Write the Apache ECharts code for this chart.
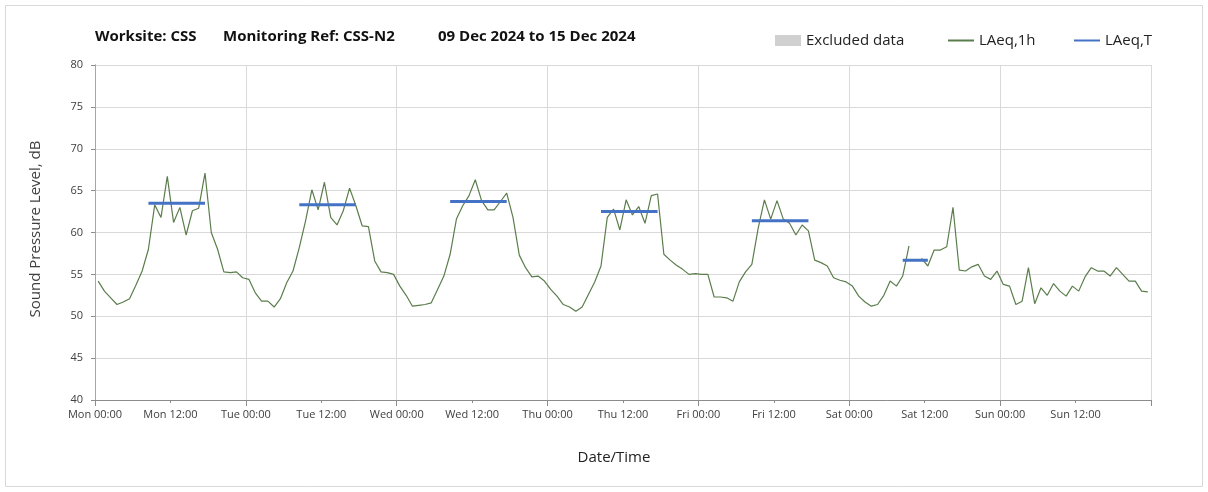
<!DOCTYPE html>
<html>
<head>
<meta charset="utf-8">
<script src="https://cdn.jsdelivr.net/npm/echarts@6/dist/echarts.min.js"></script>
<style>
  html, body { margin: 0; padding: 0; background: #fff; }
  #chart { width: 1208px; height: 492px; }
</style>
</head>
<body>
<div id="chart"></div>
<script>
// ---- Data ----
const titleParts = ['Worksite: CSS', 'Monitoring Ref: CSS-N2', '09 Dec 2024 to 15 Dec 2024'];
const dayNames = ['Mon', 'Tue', 'Wed', 'Thu', 'Fri', 'Sat', 'Sun'];
const tickTimes = ['00:00', '12:00'];
const sampleOffsetHours = 0.5; // hourly samples plotted at mid-hour
// Hourly LAeq,1h values (dB), Mon 00:00 .. Sun 23:00 (null = no data)
const laeq1h = [
  54.2, 53.0, 52.2, 51.4, 51.7, 52.1, 53.7, 55.4, 58.0, 63.3, 61.8, 66.7, 61.2, 63.0, 59.7, 62.6, 62.9, 67.1, 60.0, 58.0, 55.3, 55.2, 55.3, 54.6,
  54.4, 52.8, 51.8, 51.8, 51.1, 52.1, 54.0, 55.4, 58.2, 61.4, 65.1, 62.7, 66.0, 61.8, 60.9, 62.6, 65.3, 63.2, 60.8, 60.7, 56.6, 55.3, 55.2, 55.0,
  53.6, 52.5, 51.2, 51.3, 51.4, 51.6, 53.2, 54.8, 57.4, 61.6, 63.2, 64.4, 66.3, 63.8, 62.7, 62.7, 63.7, 64.7, 61.8, 57.3, 55.8, 54.7, 54.8, 54.2,
  53.2, 52.4, 51.4, 51.1, 50.6, 51.1, 52.6, 54.1, 56.0, 61.8, 62.8, 60.3, 63.9, 62.1, 63.1, 61.1, 64.4, 64.6, 57.4, 56.7, 56.1, 55.6, 55.0, 55.1,
  55.0, 55.0, 52.3, 52.3, 52.2, 51.8, 54.1, 55.3, 56.2, 60.5, 63.9, 61.6, 63.8, 61.6, 61.1, 59.7, 60.9, 60.2, 56.7, 56.4, 56.0, 54.6, 54.3, 54.1,
  53.6, 52.4, 51.7, 51.2, 51.4, 52.5, 54.2, 53.6, 54.8, 58.4, null, 56.9, 56.0, 57.9, 57.9, 58.3, 63.0, 55.5, 55.4, 55.9, 56.2, 54.8, 54.4, 55.4,
  53.8, 53.6, 51.4, 51.8, 55.8, 51.5, 53.4, 52.5, 53.9, 53.0, 52.4, 53.6, 53.0, 54.7, 55.8, 55.4, 55.4, 54.8, 55.8, 55.0, 54.2, 54.2, 53.0, 52.9
];
// LAeq,T periods: first and last hourly sample index, and level (dB)
const periodStartIdx = [8, 32, 56, 80, 104, 128];
const periodEndIdx   = [17, 41, 65, 89, 113, 132];
const laeqT          = [63.5, 63.3, 63.7, 62.5, 61.4, 56.7];

// ---- Chart ----
const FONT = '"Open Sans", Lato, sans-serif';
const textColor = '#404040';
const axisColor = '#8c8c8c';
const gridColor = '#d9d9d9';
const greenColor = '#5b7d4c';
const blueColor = '#4472c4';

const lineData = laeq1h.map((v, i) => [i + sampleOffsetHours, v]);

const series = [
  { name: 'Excluded data', type: 'bar', data: [], itemStyle: { color: '#d0d0d0' } },
  {
    name: 'LAeq,1h', type: 'line', data: lineData, symbol: 'none', connectNulls: false,
    lineStyle: { color: greenColor, width: 1.2 }, itemStyle: { color: greenColor }, z: 3
  }
];
laeqT.forEach((v, k) => {
  series.push({
    name: 'LAeq,T', type: 'line', symbol: 'none', z: 4,
    data: [[periodStartIdx[k] + sampleOffsetHours, v], [periodEndIdx[k] + sampleOffsetHours, v]],
    lineStyle: { color: blueColor, width: 3 }, itemStyle: { color: blueColor }
  });
});

const legendBase = {
  top: 33, itemWidth: 26, itemHeight: 11, padding: 0, itemGap: 4,
  textStyle: { fontFamily: FONT, fontSize: 15, color: '#222' }
};
const hiddenSymbol = { opacity: 0, borderWidth: 0 };

const titleLefts = [95, 223, 438];
const option = {
  animation: false,
  backgroundColor: '#fff',
  title: titleParts.map((t, i) => ({
    text: t, left: titleLefts[i], top: 29, padding: 0,
    textStyle: { fontFamily: FONT, fontSize: 15, fontWeight: 'bold', color: '#111' }
  })),
  legend: [
    Object.assign({}, legendBase, { left: 775, data: [{ name: 'Excluded data', icon: 'rect' }] }),
    Object.assign({}, legendBase, { left: 947, data: [{ name: 'LAeq,1h', itemStyle: hiddenSymbol }] }),
    Object.assign({}, legendBase, { left: 1073, data: [{ name: 'LAeq,T', itemStyle: hiddenSymbol }] })
  ],
  grid: { left: 95, right: 57, top: 65, bottom: 92, containLabel: false },
  xAxis: [
    {
      type: 'value', min: 0, max: 168, interval: 12,
      axisLine: { show: true, lineStyle: { color: axisColor } },
      axisTick: { show: true, length: 3, lineStyle: { color: axisColor } },
      splitLine: { show: false },
      axisLabel: {
        fontFamily: FONT, fontSize: 11, color: textColor, margin: 9,
        formatter: v => (v >= 168 ? '' : dayNames[Math.floor(v / 24)] + ' ' + tickTimes[(v % 24) / 12])
      }
    },
    {
      type: 'value', min: 0, max: 168, interval: 24, position: 'bottom',
      axisLine: { show: false },
      axisTick: { show: true, length: 6, lineStyle: { color: axisColor } },
      axisLabel: { show: false },
      splitLine: { show: true, lineStyle: { color: gridColor, width: 1 } }
    }
  ],
  yAxis: [
    {
      type: 'value', min: 40, max: 80, interval: 5,
      axisLine: { show: true, lineStyle: { color: axisColor } },
      axisTick: { show: true, length: 4, lineStyle: { color: axisColor } },
      axisLabel: { fontFamily: FONT, fontSize: 11, color: textColor, margin: 12 },
      splitLine: { show: true, lineStyle: { color: gridColor, width: 1 } }
    },
    {
      type: 'value', min: 40, max: 80, interval: 5, position: 'right',
      axisLine: { show: true, lineStyle: { color: '#a6a6a6' } },
      axisTick: { show: false }, axisLabel: { show: false }, splitLine: { show: false }
    }
  ],
  graphic: [
    {
      type: 'rect', silent: true, z: -10,
      shape: { x: 5.5, y: 5.5, width: 1197, height: 481 },
      style: { fill: 'none', stroke: '#d9d9d9', lineWidth: 1 }
    },
    {
      type: 'text', x: 36, y: 229, rotation: Math.PI / 2,
      style: { text: 'Sound Pressure Level, dB', fontFamily: FONT, fontSize: 15, fill: textColor, align: 'center', verticalAlign: 'middle' }
    },
    {
      type: 'text', x: 614, y: 458,
      style: { text: 'Date/Time', fontFamily: FONT, fontSize: 15, fill: '#222', align: 'center', verticalAlign: 'middle' }
    }
  ],
  series: series
};

const chart = echarts.init(document.getElementById('chart'), null, { renderer: 'canvas' });
chart.setOption(option);
</script>
</body>
</html>
